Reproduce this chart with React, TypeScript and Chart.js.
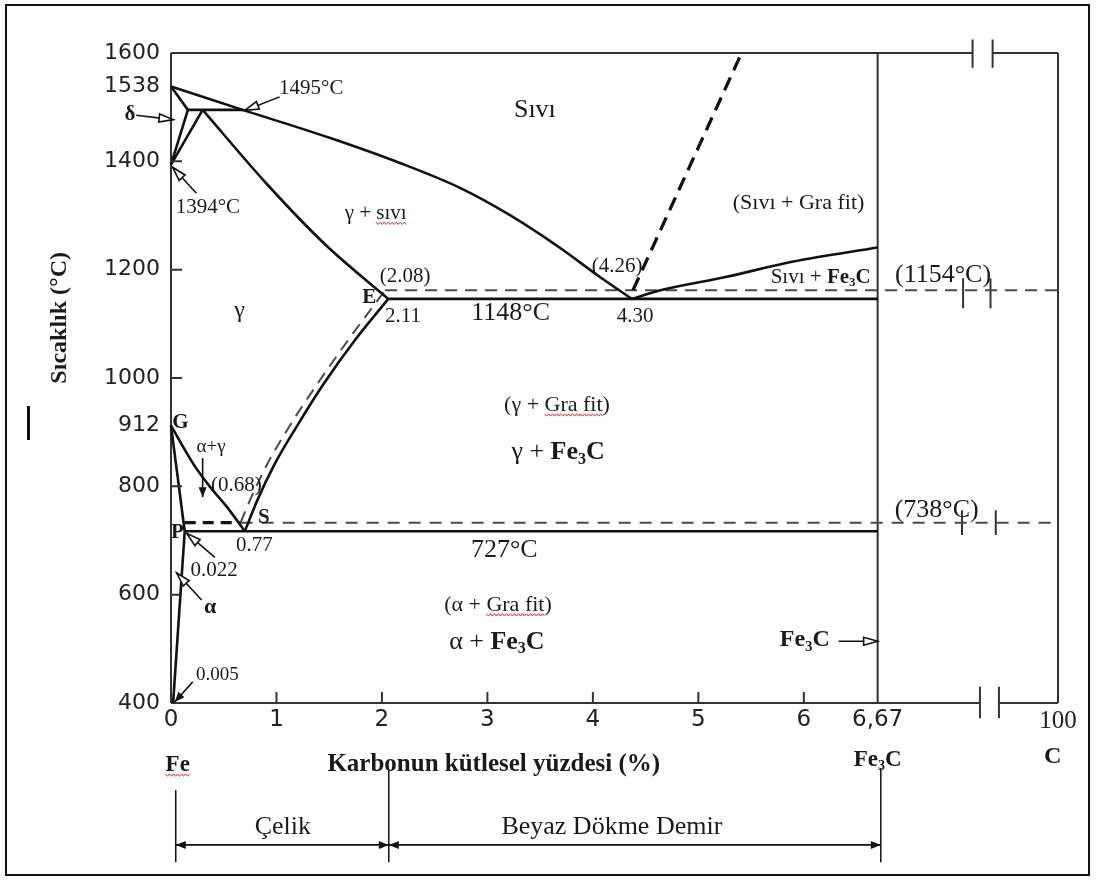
import React, { useEffect, useRef } from "react";
import { Chart, registerables } from "chart.js";
Chart.register(...registerables);

// ---------- axes (x: % C, compressed after Fe3C up to 100 % C; y: °C) ----------
const X_MIN = 0;
const X_MAX = 8.41;
const Y_MIN = 400;
const Y_MAX = 1600;
const X_TICKS = [0, 1, 2, 3, 4, 5, 6, 6.7, 8.41];
const X_TICK_LABELS = ["0", "1", "2", "3", "4", "5", "6", "6,67", "100"];
const Y_TICKS = [400, 600, 800, 912, 1000, 1200, 1400, 1538, 1600];
const Y_TICK_LABELS = ["400", "600", "800", "912", "1000", "1200", "1400", "1538", "1600"];
const X_TICK_MARKS = [1, 2, 3, 4, 5, 6];
const Y_TICK_MARKS = [600, 800, 1000, 1200, 1400];

// ---------- phase boundaries [C %, °C] ----------
const LIQUIDUS_ABC: [number, number][] = [[0, 1538], [0.68, 1495], [1.51, 1443], [2.17, 1397], [2.74, 1351], [3.21, 1301], [3.69, 1240], [4.07, 1186], [4.37, 1146]];
const DELTA_SOLIDUS_AH: [number, number][] = [[0, 1538], [0.16, 1495]];
const PERITECTIC_HB: [number, number][] = [[0.16, 1495], [0.68, 1495]];
const DELTA_SOLVUS_HN: [number, number][] = [[0.16, 1495], [0, 1394]];
const GAMMA_JN: [number, number][] = [[0.3, 1495], [0, 1394]];
const SOLIDUS_JE: [number, number][] = [[0.3, 1495], [0.9, 1360], [1.47, 1245], [2.06, 1146]];
const EUTECTIC_ECF: [number, number][] = [[2.06, 1146], [6.7, 1146]];
const LIQUIDUS_CD: [number, number][] = [[4.37, 1146], [4.64, 1162], [5.27, 1187], [5.9, 1215], [6.7, 1241]];
const LIQUIDUS_GRAPHITE: [number, number][] = [[4.38, 1162], [5.41, 1600]];
const EUTECTIC_GRAPHITE: [number, number][] = [[2.03, 1162], [8.41, 1162]];
const A3_GS: [number, number][] = [[0, 912], [0.21, 842], [0.37, 799], [0.53, 762], [0.7, 717]];
const ALPHA_GP: [number, number][] = [[0, 912], [0.13, 717]];
const ALPHA_PQ: [number, number][] = [[0.13, 717], [0.02, 400]];
const ACM_SE: [number, number][] = [[0.7, 717], [0.82, 775], [0.98, 840], [1.2, 913], [1.44, 987], [1.745, 1070], [2.06, 1146]];
const ACM_GRAPHITE: [number, number][] = [[0.66, 733], [0.75, 775], [0.91, 840], [1.13, 913], [1.38, 987], [1.68, 1070], [2.03, 1162]];
const EUTECTOID_PSK: [number, number][] = [[0.13, 717], [6.7, 717]];
const EUTECTOID_GRAPHITE_A: [number, number][] = [[0.13, 733], [0.66, 733]];
const EUTECTOID_GRAPHITE_B: [number, number][] = [[0.66, 733], [8.41, 733]];
const FE3C_LINE: [number, number][] = [[6.7, 400], [6.7, 1600]];

// ---------- frame with axis breaks ----------
const FRAME_LEFT: [number, number][] = [[0, 400], [0, 1600]];
const FRAME_RIGHT: [number, number][] = [[8.41, 400], [8.41, 1600]];
const FRAME_TOP_A: [number, number][] = [[0, 1600], [7.6, 1600]];
const FRAME_TOP_B: [number, number][] = [[7.79, 1600], [8.41, 1600]];
const FRAME_BOTTOM_A: [number, number][] = [[0, 400], [7.67, 400]];
const FRAME_BOTTOM_B: [number, number][] = [[7.85, 400], [8.41, 400]];
const BREAK_TOP_1: [number, number][] = [[7.6, 1625], [7.6, 1573]];
const BREAK_TOP_2: [number, number][] = [[7.79, 1625], [7.79, 1573]];
const BREAK_BOTTOM_1: [number, number][] = [[7.67, 430], [7.67, 372]];
const BREAK_BOTTOM_2: [number, number][] = [[7.85, 430], [7.85, 372]];
const BREAK_1154_1: [number, number][] = [[7.51, 1184], [7.51, 1129]];
const BREAK_1154_2: [number, number][] = [[7.77, 1184], [7.77, 1129]];
const BREAK_738_1: [number, number][] = [[7.5, 756], [7.5, 710]];
const BREAK_738_2: [number, number][] = [[7.82, 756], [7.82, 710]];

// ---------- styles ----------
const SERIF = '"Liberation Serif", "Times New Roman", serif';
const SANS = '"DejaVu Sans", Verdana, sans-serif';
const INK = "#111111";
const FRAME = "#333333";
const DASHC = "#4a4a4a";

type Series = { pts: [number, number][]; color: string; w: number; dash?: number[]; smooth?: boolean };
const SERIES: Series[] = [
  { pts: LIQUIDUS_ABC, color: INK, w: 2.6, smooth: true },
  { pts: DELTA_SOLIDUS_AH, color: INK, w: 2.6 },
  { pts: PERITECTIC_HB, color: INK, w: 2.6 },
  { pts: DELTA_SOLVUS_HN, color: INK, w: 2.6 },
  { pts: GAMMA_JN, color: INK, w: 2.6 },
  { pts: SOLIDUS_JE, color: INK, w: 2.6, smooth: true },
  { pts: EUTECTIC_ECF, color: INK, w: 2.6 },
  { pts: LIQUIDUS_CD, color: INK, w: 2.6, smooth: true },
  { pts: LIQUIDUS_GRAPHITE, color: INK, w: 3.2, dash: [14, 8] },
  { pts: EUTECTIC_GRAPHITE, color: DASHC, w: 2, dash: [12, 8] },
  { pts: A3_GS, color: INK, w: 2.6, smooth: true },
  { pts: ALPHA_GP, color: INK, w: 2.6 },
  { pts: ALPHA_PQ, color: INK, w: 2.6 },
  { pts: ACM_SE, color: INK, w: 2.6, smooth: true },
  { pts: ACM_GRAPHITE, color: DASHC, w: 2, dash: [12, 8], smooth: true },
  { pts: EUTECTOID_PSK, color: INK, w: 2.6 },
  { pts: EUTECTOID_GRAPHITE_A, color: INK, w: 3.2, dash: [11, 7] },
  { pts: EUTECTOID_GRAPHITE_B, color: DASHC, w: 2, dash: [12, 9] },
  { pts: FE3C_LINE, color: FRAME, w: 2 },
  { pts: FRAME_LEFT, color: FRAME, w: 2 },
  { pts: FRAME_RIGHT, color: FRAME, w: 2 },
  { pts: FRAME_TOP_A, color: FRAME, w: 2 },
  { pts: FRAME_TOP_B, color: FRAME, w: 2 },
  { pts: FRAME_BOTTOM_A, color: FRAME, w: 2 },
  { pts: FRAME_BOTTOM_B, color: FRAME, w: 2 },
  { pts: BREAK_TOP_1, color: FRAME, w: 2 },
  { pts: BREAK_TOP_2, color: FRAME, w: 2 },
  { pts: BREAK_BOTTOM_1, color: FRAME, w: 2 },
  { pts: BREAK_BOTTOM_2, color: FRAME, w: 2 },
  { pts: BREAK_1154_1, color: FRAME, w: 2 },
  { pts: BREAK_1154_2, color: FRAME, w: 2 },
  { pts: BREAK_738_1, color: FRAME, w: 2 },
  { pts: BREAK_738_2, color: FRAME, w: 2 },
];

// ---------- annotations ----------
type Seg = { t: string; b?: boolean; sub?: boolean; wavy?: boolean };
type Label = { parts: Seg[]; x: number; y: number; size: number };
const FE3C: Seg[] = [{ t: "Fe", b: true }, { t: "3", b: true, sub: true }, { t: "C", b: true }];
const LABELS: Label[] = [
  { parts: [{ t: "1495°C" }], x: 1.33, y: 1535, size: 21 },
  { parts: [{ t: "δ", b: true }], x: -0.39, y: 1486, size: 21 },
  { parts: [{ t: "1394°C" }], x: 0.35, y: 1314, size: 21 },
  { parts: [{ t: "Sıvı" }], x: 3.45, y: 1495, size: 26 },
  { parts: [{ t: "γ + " }, { t: "sıvı", wavy: true }], x: 1.94, y: 1303, size: 21 },
  { parts: [{ t: "(Sıvı + Gra fit)" }], x: 5.95, y: 1323, size: 22 },
  { parts: [{ t: "(2.08)" }], x: 2.22, y: 1188, size: 21 },
  { parts: [{ t: "E", b: true }], x: 1.88, y: 1148, size: 21 },
  { parts: [{ t: "2.11" }], x: 2.2, y: 1114, size: 21 },
  { parts: [{ t: "1148°C" }], x: 3.22, y: 1120, size: 26 },
  { parts: [{ t: "(4.26)" }], x: 4.23, y: 1205, size: 21 },
  { parts: [{ t: "4.30" }], x: 4.4, y: 1114, size: 21 },
  { parts: [{ t: "Sıvı + " }, ...FE3C], x: 6.16, y: 1186, size: 21 },
  { parts: [{ t: "(1154°C)" }], x: 7.32, y: 1190, size: 26 },
  { parts: [{ t: "γ" }], x: 0.65, y: 1125, size: 24 },
  { parts: [{ t: "G", b: true }], x: 0.09, y: 917, size: 21 },
  { parts: [{ t: "α+γ" }], x: 0.38, y: 873, size: 19 },
  { parts: [{ t: "(0.68)" }], x: 0.62, y: 802, size: 21 },
  { parts: [{ t: "S", b: true }], x: 0.88, y: 743, size: 21 },
  { parts: [{ t: "P", b: true }], x: 0.06, y: 714, size: 21 },
  { parts: [{ t: "0.77" }], x: 0.79, y: 690, size: 21 },
  { parts: [{ t: "0.022" }], x: 0.41, y: 645, size: 21 },
  { parts: [{ t: "α", b: true }], x: 0.37, y: 577, size: 22 },
  { parts: [{ t: "0.005" }], x: 0.44, y: 452, size: 19 },
  { parts: [{ t: "(γ + " }, { t: "Gra fit", wavy: true }, { t: ")" }], x: 3.66, y: 950, size: 22 },
  { parts: [{ t: "γ + " }, ...FE3C], x: 3.67, y: 863, size: 26 },
  { parts: [{ t: "727°C" }], x: 3.16, y: 682, size: 26 },
  { parts: [{ t: "(α + " }, { t: "Gra fit", wavy: true }, { t: ")" }], x: 3.1, y: 581, size: 22 },
  { parts: [{ t: "α + " }, ...FE3C], x: 3.09, y: 513, size: 26 },
  { parts: [{ t: "(738°C)" }], x: 7.26, y: 756, size: 26 },
  { parts: FE3C, x: 6.01, y: 516, size: 24 },
  // below the axis
  { parts: [{ t: "Fe", b: true, wavy: true }], x: 0.064, y: 286, size: 23 },
  { parts: [{ t: "Karbonun kütlesel yüzdesi (%)", b: true }], x: 3.06, y: 286, size: 25 },
  { parts: FE3C, x: 6.7, y: 295, size: 23 },
  { parts: [{ t: "C", b: true }], x: 8.36, y: 300, size: 24 },
  { parts: [{ t: "Çelik" }], x: 1.06, y: 171, size: 26 },
  { parts: [{ t: "Beyaz Dökme Demir" }], x: 4.18, y: 171, size: 26 },
];
type Arrow = { from: [number, number]; to: [number, number]; hollow: boolean; both?: boolean };
const ARROWS: Arrow[] = [
  { from: [1.03, 1519], to: [0.7, 1494], hollow: true },
  { from: [-0.33, 1485], to: [0.02, 1477], hollow: true },
  { from: [0.24, 1341], to: [0.016, 1389], hollow: true },
  { from: [0.3, 852], to: [0.3, 780], hollow: false },
  { from: [0.416, 669], to: [0.15, 713], hollow: true },
  { from: [0.29, 590], to: [0.054, 640], hollow: true },
  { from: [0.206, 439], to: [0.035, 402], hollow: false },
  { from: [6.33, 514], to: [6.7, 514], hollow: true },
  { from: [0.045, 138], to: [2.065, 138], hollow: false, both: true },
  { from: [2.065, 138], to: [6.73, 138], hollow: false, both: true },
];
const DIM_LINES: [number, number][][] = [
  [[0.045, 239], [0.045, 106]],
  [[2.065, 276], [2.065, 106]],
  [[6.73, 280], [6.73, 106]],
];

function drawRich(ctx: CanvasRenderingContext2D, segs: Seg[], cx: number, cy: number, size: number) {
  const fontFor = (s: Seg) => `${s.b ? "bold " : ""}${s.sub ? Math.round(size * 0.62) : size}px ${SERIF}`;
  let total = 0;
  const widths = segs.map((s) => {
    ctx.font = fontFor(s);
    const w = ctx.measureText(s.t).width;
    total += w;
    return w;
  });
  let x = cx - total / 2;
  ctx.textAlign = "left";
  ctx.textBaseline = "middle";
  segs.forEach((s, i) => {
    ctx.font = fontFor(s);
    ctx.fillStyle = "#1a1a1a";
    ctx.fillText(s.t, x, cy + (s.sub ? size * 0.28 : 0));
    if (s.wavy) {
      ctx.save();
      ctx.strokeStyle = "#e02020";
      ctx.lineWidth = 1;
      ctx.beginPath();
      const yb = cy + size * 0.45;
      let k = 0;
      for (let xx = x; xx <= x + widths[i]; xx += 2) {
        const yy = yb + (k % 2 === 0 ? -1.2 : 1.2);
        if (k === 0) ctx.moveTo(xx, yy);
        else ctx.lineTo(xx, yy);
        k++;
      }
      ctx.stroke();
      ctx.restore();
    }
    x += widths[i];
  });
}

function drawHead(ctx: CanvasRenderingContext2D, x1: number, y1: number, x2: number, y2: number, hollow: boolean) {
  const ang = Math.atan2(y2 - y1, x2 - x1);
  const len = hollow ? 14 : 10;
  const half = 4;
  const bx = x2 - Math.cos(ang) * len;
  const by = y2 - Math.sin(ang) * len;
  const nx = -Math.sin(ang) * half;
  const ny = Math.cos(ang) * half;
  ctx.beginPath();
  ctx.moveTo(x2, y2);
  ctx.lineTo(bx + nx, by + ny);
  ctx.lineTo(bx - nx, by - ny);
  ctx.closePath();
  if (hollow) {
    ctx.fillStyle = "#ffffff";
    ctx.fill();
    ctx.stroke();
  } else {
    ctx.fillStyle = "#111";
    ctx.fill();
  }
}

const annotationPlugin = {
  id: "phaseAnnotations",
  afterDatasetsDraw(chart: any) {
    const ctx: CanvasRenderingContext2D = chart.ctx;
    const xs = chart.scales.x;
    const ys = chart.scales.y;
    const px = (v: number) => xs.getPixelForValue(v);
    const py = (v: number) => ys.getPixelForValue(v);
    ctx.save();
    // inward tick marks
    ctx.strokeStyle = FRAME;
    ctx.lineWidth = 2;
    ctx.beginPath();
    Y_TICK_MARKS.forEach((v) => {
      ctx.moveTo(px(X_MIN), py(v));
      ctx.lineTo(px(X_MIN) + 11, py(v));
    });
    X_TICK_MARKS.forEach((v) => {
      ctx.moveTo(px(v), py(Y_MIN));
      ctx.lineTo(px(v), py(Y_MIN) - 11);
    });
    ctx.stroke();
    // dimension lines under the axis
    ctx.strokeStyle = "#111";
    ctx.lineWidth = 1.5;
    DIM_LINES.forEach((l) => {
      ctx.beginPath();
      ctx.moveTo(px(l[0][0]), py(l[0][1]));
      ctx.lineTo(px(l[1][0]), py(l[1][1]));
      ctx.stroke();
    });
    // arrows
    ARROWS.forEach((a) => {
      const x1 = px(a.from[0]), y1 = py(a.from[1]), x2 = px(a.to[0]), y2 = py(a.to[1]);
      ctx.strokeStyle = "#111";
      ctx.lineWidth = 1.6;
      ctx.beginPath();
      ctx.moveTo(x1, y1);
      ctx.lineTo(x2, y2);
      ctx.stroke();
      drawHead(ctx, x1, y1, x2, y2, a.hollow);
      if (a.both) drawHead(ctx, x2, y2, x1, y1, a.hollow);
    });
    // labels
    LABELS.forEach((l) => drawRich(ctx, l.parts, px(l.x), py(l.y), l.size));
    // y axis title
    ctx.save();
    ctx.translate(60, (py(1000) + py(1200)) / 2 - 6);
    ctx.rotate(-Math.PI / 2);
    ctx.font = `bold 24px ${SERIF}`;
    ctx.fillStyle = "#1a1a1a";
    ctx.textAlign = "center";
    ctx.textBaseline = "middle";
    ctx.fillText("Sıcaklık (°C)", 0, 0);
    ctx.restore();
    // stray caret mark and outer picture border
    ctx.fillStyle = "#111";
    ctx.fillRect(27, 406, 3, 34);
    ctx.strokeStyle = "#111";
    ctx.lineWidth = 2;
    ctx.strokeRect(6, 5, 1083, 870);
    ctx.restore();
  },
};

export default function App() {
  const ref = useRef<HTMLCanvasElement>(null);
  useEffect(() => {
    if (!ref.current) return;
    const chart = new Chart(ref.current, {
      type: "scatter",
      data: {
        datasets: SERIES.map((s) => ({
          data: s.pts.map(([x, y]) => ({ x, y })),
          showLine: true,
          borderColor: s.color,
          backgroundColor: s.color,
          borderWidth: s.w,
          borderDash: s.dash || [],
          pointRadius: 0,
          pointHoverRadius: 0,
          fill: false,
          tension: 0,
          cubicInterpolationMode: s.smooth ? "monotone" : "default",
          clip: false,
        })) as any,
      },
      options: {
        responsive: false,
        devicePixelRatio: 1,
        animation: false,
        events: [],
        layout: { padding: { left: 0, top: 53, right: 38, bottom: 0 } },
        plugins: { legend: { display: false }, tooltip: { enabled: false } },
        scales: {
          x: {
            type: "linear",
            min: X_MIN,
            max: X_MAX,
            afterBuildTicks: (s: any) => {
              s.ticks = X_TICKS.map((v) => ({ value: v }));
            },
            afterFit: (s: any) => {
              s.height = 178;
            },
            grid: { display: false, drawTicks: false },
            border: { display: false },
            ticks: {
              autoSkip: false,
              maxRotation: 0,
              padding: 3,
              color: "#222",
              font: (c: any) => (c.index === X_TICKS.length - 1 ? { family: SERIF, size: 25 } : { family: SANS, size: 23 }),
              callback: (_v: any, i: number) => X_TICK_LABELS[i],
            },
          },
          y: {
            type: "linear",
            min: Y_MIN,
            max: Y_MAX,
            afterBuildTicks: (s: any) => {
              s.ticks = Y_TICKS.map((v) => ({ value: v }));
            },
            afterFit: (s: any) => {
              s.width = 171;
            },
            grid: { display: false, drawTicks: false },
            border: { display: false },
            ticks: {
              autoSkip: false,
              padding: 11,
              color: "#222",
              font: { family: SANS, size: 22 },
              callback: (_v: any, i: number) => Y_TICK_LABELS[i],
            },
          },
        },
      },
      plugins: [annotationPlugin],
    });
    return () => chart.destroy();
  }, []);
  return (
    <div style={{ position: "absolute", left: 0, top: 0, width: 1096, height: 881, background: "#fff" }}>
      <canvas ref={ref} width={1096} height={881} />
    </div>
  );
}
